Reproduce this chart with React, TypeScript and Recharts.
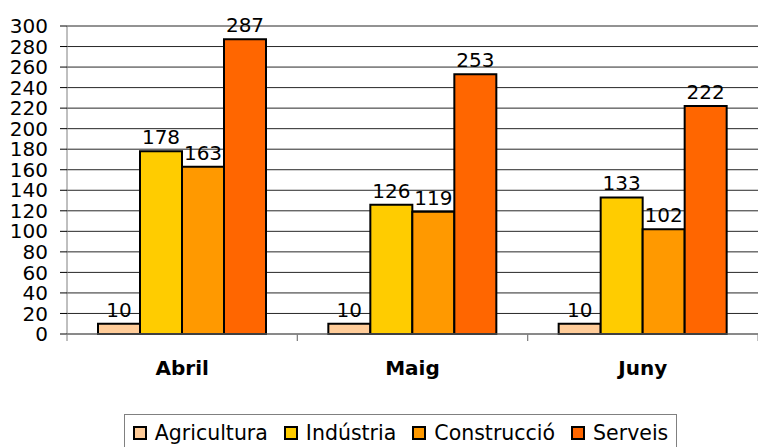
import React from "react";
import { BarChart, Bar, XAxis, YAxis, CartesianGrid, LabelList } from "recharts";

const months = ["Abril", "Maig", "Juny"];
const agricultura = [10, 10, 10];
const industria = [178, 126, 133];
const construccio = [163, 119, 102];
const serveis = [287, 253, 222];
const yTicks = [0, 20, 40, 60, 80, 100, 120, 140, 160, 180, 200, 220, 240, 260, 280, 300];

const seriesDefs = [
  { key: "agricultura", name: "Agricultura", color: "#FFCC99" },
  { key: "industria", name: "Indústria", color: "#FFCC00" },
  { key: "construccio", name: "Construcció", color: "#FF9900" },
  { key: "serveis", name: "Serveis", color: "#FF6600" },
];

const data = months.map((m, i) => ({
  month: m,
  agricultura: agricultura[i],
  industria: industria[i],
  construccio: construccio[i],
  serveis: serveis[i],
}));

const FONT = "'DejaVu Sans', Verdana, sans-serif";
const W = 758;
const H = 447;
const PLOT_LEFT = 67;
const PLOT_RIGHT = 758;

const XTick = (props: any) => {
  const { x, y, payload } = props;
  const band = (PLOT_RIGHT - PLOT_LEFT) / months.length;
  return (
    <g>
      <line x1={x - band / 2} y1={y - 8} x2={x - band / 2} y2={y - 1} stroke="#808080" />
      <line x1={x + band / 2} y1={y - 8} x2={x + band / 2} y2={y - 1} stroke="#808080" />
      <text x={x} y={y + 33} textAnchor="middle" fontFamily={FONT} fontSize={20} fontWeight="bold" fill="#000">
        {payload.value}
      </text>
    </g>
  );
};

const ValueLabel = (props: any) => {
  const { x, y, width, value } = props;
  return (
    <text x={x + width / 2} y={y - 7} textAnchor="middle" fontFamily={FONT} fontSize={20} fill="#000">
      {value}
    </text>
  );
};

export default function App() {
  return (
    <div style={{ position: "absolute", left: 0, top: 0, width: W, height: H, background: "#fff" }}>
      <BarChart
        width={W}
        height={H}
        data={data}
        margin={{ top: 26, right: 0, left: 0, bottom: 0 }}
        barCategoryGap={31}
        barGap={0}
      >
        <CartesianGrid vertical={false} stroke="#000" strokeOpacity={0.85} />
        <YAxis
          width={PLOT_LEFT}
          domain={[0, 300]}
          ticks={yTicks}
          interval={0}
          tick={{ fontFamily: FONT, fontSize: 20, fill: "#000" }}
          tickLine={{ stroke: "#000" }}
          tickSize={7}
          tickMargin={12}
          axisLine={{ stroke: "#808080" }}
        />
        <XAxis
          dataKey="month"
          tick={<XTick />}
          tickLine={false}
          axisLine={{ stroke: "#808080" }}
          height={113}
        />
        {seriesDefs.map((s) => (
          <Bar key={s.key} dataKey={s.key} name={s.name} fill={s.color} stroke="#000" strokeWidth={2} isAnimationActive={false}>
            <LabelList dataKey={s.key} content={<ValueLabel />} />
          </Bar>
        ))}
      </BarChart>
      <div
        style={{
          position: "absolute",
          left: 124,
          top: 414,
          width: 553,
          height: 40,
          border: "1px solid #808080",
          boxSizing: "border-box",
          display: "flex",
          alignItems: "flex-start",
          justifyContent: "center",
          paddingTop: 6,
          fontFamily: FONT,
          fontSize: 20.5,
          color: "#000",
          whiteSpace: "nowrap",
        }}
      >
        {seriesDefs.map((s, i) => (
          <span key={s.key} style={{ display: "flex", alignItems: "center", marginLeft: i === 0 ? 0 : 16 }}>
            <span
              style={{
                display: "inline-block",
                width: 14,
                height: 14,
                background: s.color,
                border: "2px solid #000",
                boxSizing: "border-box",
                marginRight: 8,
              }}
            />
            <span style={{ lineHeight: "24px" }}>{s.name}</span>
          </span>
        ))}
      </div>
    </div>
  );
}
